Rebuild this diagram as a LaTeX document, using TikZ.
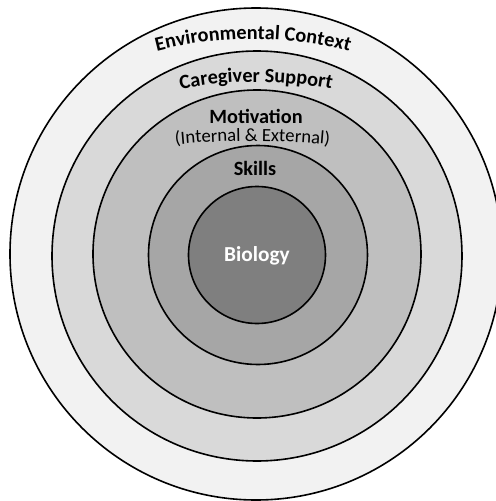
\documentclass[tikz,border=0pt]{standalone}
\usepackage{fontspec}
\setmainfont{Carlito}
\usetikzlibrary{decorations.text}

\definecolor{envgray}{HTML}{F2F2F2}
\definecolor{caregray}{HTML}{D9D9D9}
\definecolor{motgray}{HTML}{BFBFBF}
\definecolor{skillgray}{HTML}{A6A6A6}
\definecolor{biogray}{HTML}{7F7F7F}

\newcommand{\ringbold}{\fontsize{15.2}{18}\selectfont\bfseries}
\newcommand{\ringplain}{\fontsize{14}{16}\selectfont}

\tikzset{
  ring/.style={draw=black, line width=1.2pt},
  ringlabel/.style={anchor=base, inner sep=0pt},
  bentlabel/.style={decorate, decoration={text along path, text align=center, text={#1}}},
}

\begin{document}
\begin{tikzpicture}[x=0.75pt,y=0.75pt]
                \useasboundingbox (-257,-246) rectangle (239,255);
                \clip (-257,-246) rectangle (239,255);
                \draw[ring, fill=envgray] (-1,1) circle (246);
                \draw[ring, fill=caregray] (0,-1) circle (205);
                \draw[ring, fill=motgray] (0,1) circle (164);
                \draw[ring, fill=skillgray] (1,0) circle (109.5);
                \draw[ring, fill=biogray] (0,0) circle (68.5);
                % start points of the bent labels
                \path (-4,-167) ++(118:383) coordinate (envs);
                \path (-1,-227) ++(115:400) coordinate (cares);
                \path (-4.5,-713) ++(96:827) coordinate (ints);
                \path[bentlabel={|\ringbold|Environmental Context}] (envs) arc[start angle=118, end angle=62, radius=383];
                \path[bentlabel={|\ringbold|Caregiver Support}] (cares) arc[start angle=115, end angle=65, radius=400];
                \path[bentlabel={|\ringplain|(Internal {\&} External)}] (ints) arc[start angle=96, end angle=84, radius=827];
                \node[ringlabel, font=\ringbold] at (-1,132) (motlabel) {Motivation};
                \node[ringlabel, font=\ringbold] at (-2,80) (skilllabel) {Skills};
                \node[ringlabel, font=\fontsize{16}{19}\selectfont\bfseries, text=white] at (0,-6.7) (biolabel) {Biology};
\end{tikzpicture}
\end{document}
